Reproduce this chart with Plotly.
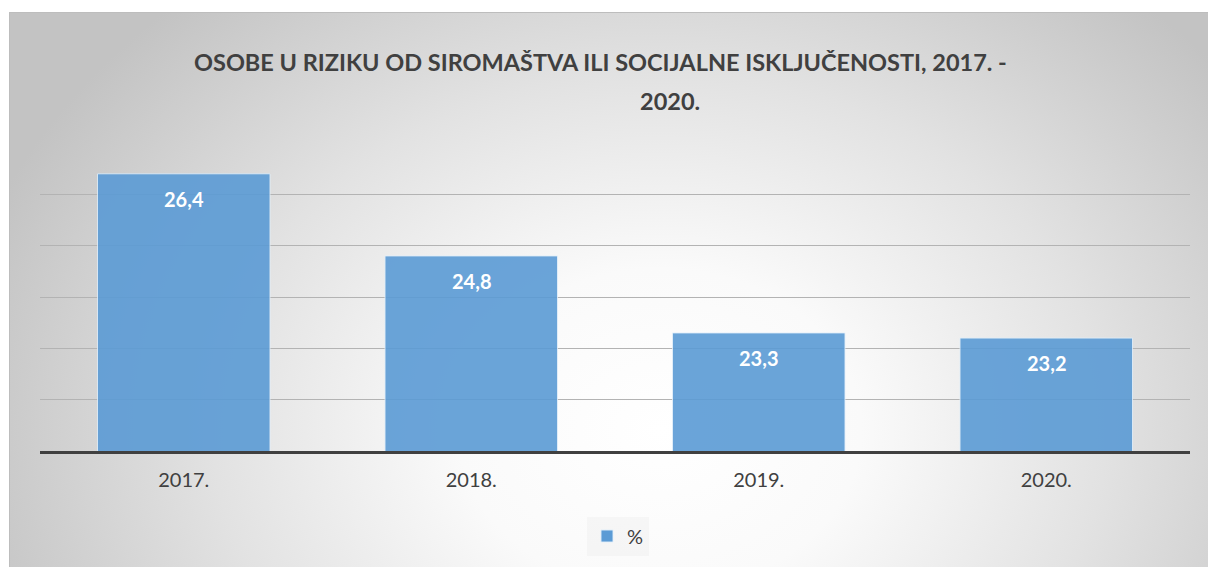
import base64
import plotly.graph_objects as go

# ---- data ----
categories = ["2017.", "2018.", "2019.", "2020."]
values = [26.4, 24.8, 23.3, 23.2]
value_labels = ["26,4", "24,8", "23,3", "23,2"]
series_name = "%"
title_line1 = "OSOBE U RIZIKU OD SIROMAŠTVA ILI SOCIJALNE ISKLJUČENOSTI, 2017. -"
title_line2 = "2020."

# page body margin is removed (post_script), so figure coords = screen coords
W, H = 1208, 567
ML, MR, MT, MB = 40, 18, 143, 116
PW, PH = W - ML - MR, H - MT - MB

FONT = "Lato"
TXT = "#404040"

# background: radial gradient chart area (as an SVG image)
CX, CY = 660, 430
svg = f'''<svg xmlns="http://www.w3.org/2000/svg" width="{W}" height="{H}" viewBox="0 0 {W} {H}" preserveAspectRatio="none">
<defs><radialGradient id="g" gradientUnits="userSpaceOnUse" cx="{CX}" cy="{CY}" r="720"
 gradientTransform="translate({CX} {CY}) scale(1 0.8) translate({-CX} {-CY})">
<stop offset="0" stop-color="#ffffff"/>
<stop offset="0.28" stop-color="#fafafa"/>
<stop offset="0.62" stop-color="#e2e2e2"/>
<stop offset="1" stop-color="#c3c3c3"/>
</radialGradient></defs>
<rect x="0" y="0" width="{W}" height="{H}" fill="#ffffff"/>
<rect x="9" y="12" width="{W-9}" height="{H-12}" fill="url(#g)"/>
<path d="M9.5 {H} V12.5 H{W}" fill="none" stroke="#bdbdbd" stroke-width="1"/>
</svg>'''
bg_uri = "data:image/svg+xml;base64," + base64.b64encode(svg.encode("utf-8")).decode("ascii")

fig = go.Figure()
fig.add_trace(go.Bar(
    x=categories,
    y=values,
    name=series_name,
    marker=dict(color="#5B9BD5", opacity=0.9,
                line=dict(color="rgba(225,238,250,0.9)", width=1)),
    showlegend=True,
    hoverinfo="skip",
))

annotations = []
for i, (v, t) in enumerate(zip(values, value_labels)):
    annotations.append(dict(
        x=i, y=v, xref="x", yref="y", text=f"<b>{t}</b>", showarrow=False,
        yanchor="middle", yshift=-25,
        font=dict(family=FONT, size=20, color="#ffffff"),
    ))

# title lines
annotations.append(dict(
    x=(600.5 - ML) / PW, y=1 + (MT - 62) / PH, xref="paper", yref="paper",
    text=f"<b>{title_line1}</b>", showarrow=False, xanchor="center", yanchor="middle",
    font=dict(family=FONT, size=23.5, color=TXT),
))
annotations.append(dict(
    x=(670 - ML) / PW, y=1 + (MT - 101) / PH, xref="paper", yref="paper",
    text=f"<b>{title_line2}</b>", showarrow=False, xanchor="center", yanchor="middle",
    font=dict(family=FONT, size=23.5, color=TXT),
))

fig.update_layout(
    width=W, height=H,
    margin=dict(l=ML, r=MR, t=MT, b=MB),
    paper_bgcolor="rgba(0,0,0,0)",
    plot_bgcolor="rgba(0,0,0,0)",
    bargap=0.4,
    images=[dict(
        source=bg_uri, xref="paper", yref="paper",
        x=-ML / PW, y=1 + MT / PH, sizex=W / PW, sizey=H / PH,
        xanchor="left", yanchor="top", sizing="stretch", layer="below",
    )],
    annotations=annotations,
    showlegend=True,
    legend=dict(
        orientation="h", x=(587 - ML) / PW, y=(451 - 536) / PH,
        xanchor="left", yanchor="middle",
        bgcolor="rgba(236,236,236,0.35)", borderwidth=0,
        font=dict(family=FONT, size=20, color=TXT), itemwidth=30,
    ),
    xaxis=dict(
        type="category", range=[-0.5, len(categories) - 0.5],
        showgrid=False, showline=True, linewidth=3, linecolor="#404040",
        tickfont=dict(family=FONT, size=20, color=TXT),
        ticks="outside", ticklen=0, tickcolor="rgba(0,0,0,0)",
        ticklabelstandoff=9,
    ),
    yaxis=dict(
        range=[21, 27], dtick=1, showgrid=True, gridcolor="#b3b3b3", gridwidth=1,
        showticklabels=False, zeroline=False, showline=False, fixedrange=True,
    ),
)

fig.write_html(
    "out.html",
    config={"displayModeBar": False},
    post_script=("document.body.style.margin='0';"
                 "document.documentElement.style.overflow='hidden';"
                 "document.body.style.overflow='hidden';"),
)
